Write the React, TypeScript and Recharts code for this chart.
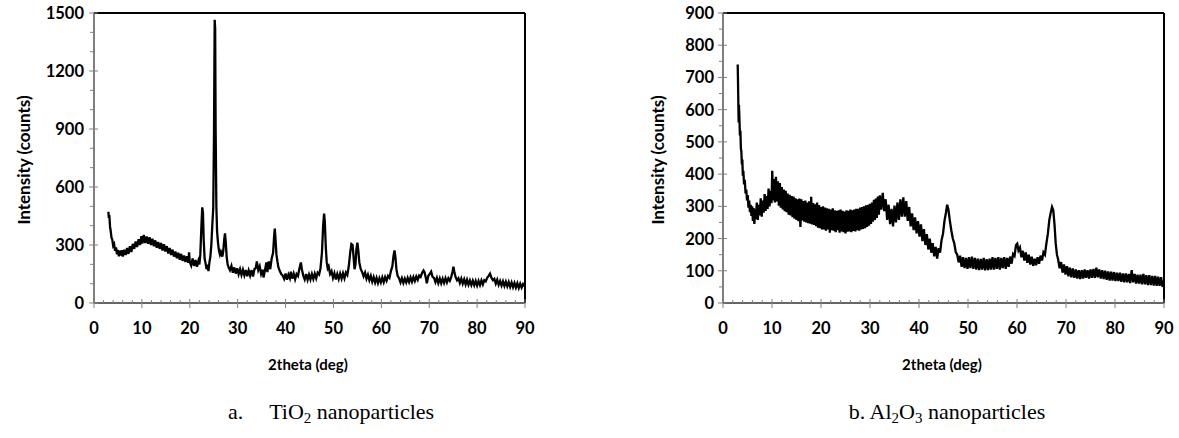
import React from 'react';
import { LineChart, Line, XAxis, YAxis, ReferenceLine } from 'recharts';

// 2theta (deg), intensity (counts)
const tio2Pattern: [number, number][] = [
  [3.0, 472], [3.1, 440], [3.2, 455], [3.35, 395], [3.5, 370], [3.65, 338], [3.8, 330], [4.0, 296],
  [4.2, 305], [4.4, 270], [4.6, 288], [4.8, 252], [5.0, 275], [5.2, 242], [5.4, 270], [5.6, 246],
  [5.8, 273], [6.0, 240], [6.3, 275], [6.6, 248], [6.9, 284], [7.2, 254], [7.5, 294], [7.8, 264],
  [8.1, 306], [8.4, 280], [8.7, 318], [9.0, 290], [9.3, 330], [9.6, 300], [9.9, 346], [10.1, 308],
  [10.4, 352], [10.7, 310], [11.0, 344], [11.3, 306], [11.6, 340], [11.9, 300], [12.2, 332], [12.5, 294],
  [12.8, 324], [13.1, 286], [13.4, 316], [13.7, 280], [14.0, 310], [14.3, 272], [14.6, 304], [14.9, 266],
  [15.2, 294], [15.5, 256], [15.8, 284], [16.1, 248], [16.4, 276], [16.7, 240], [17.0, 266], [17.3, 232],
  [17.6, 260], [17.9, 224], [18.2, 254], [18.5, 218], [18.8, 246], [19.1, 212], [19.4, 242], [19.7, 208],
  [19.85, 262], [20.0, 212], [20.3, 194], [20.6, 230], [20.9, 192], [21.2, 222], [21.5, 188], [21.8, 218],
  [22.0, 200], [22.2, 250], [22.4, 380], [22.6, 495], [22.75, 470], [22.9, 330], [23.1, 230], [23.3, 205],
  [23.5, 175], [23.7, 198], [23.9, 165], [24.1, 210], [24.3, 240], [24.5, 300], [24.7, 400], [24.9, 490],
  [25.05, 850], [25.2, 1465], [25.3, 1420], [25.4, 900], [25.55, 500], [25.7, 370], [25.9, 310], [26.1, 270],
  [26.3, 250], [26.5, 265], [26.8, 240], [27.0, 270], [27.2, 330], [27.35, 360], [27.5, 320], [27.7, 240],
  [27.9, 200], [28.1, 185], [28.4, 170], [28.7, 192], [29.0, 157], [29.3, 184], [29.6, 152], [29.9, 180],
  [30.2, 149], [30.5, 175], [30.8, 145], [31.1, 172], [31.4, 143], [31.7, 170], [32.0, 139], [32.3, 168],
  [32.6, 142], [32.9, 170], [33.2, 137], [33.5, 175], [33.8, 182], [34.0, 215], [34.3, 170], [34.6, 190],
  [34.9, 150], [35.2, 172], [35.4, 132], [35.7, 170], [36.0, 210], [36.2, 160], [36.5, 215], [36.8, 175],
  [37.1, 230], [37.4, 260], [37.6, 340], [37.75, 385], [37.9, 330], [38.1, 250], [38.3, 215], [38.5, 185],
  [38.8, 165], [39.1, 150], [39.4, 142], [39.7, 125], [40.0, 152], [40.3, 120], [40.6, 147], [40.9, 128],
  [41.1, 162], [41.4, 126], [41.7, 152], [42.0, 123], [42.3, 150], [42.6, 140], [42.9, 178], [43.2, 210],
  [43.4, 175], [43.7, 142], [44.0, 122], [44.3, 150], [44.6, 120], [44.9, 147], [45.2, 122], [45.5, 150],
  [45.8, 124], [46.1, 152], [46.4, 128], [46.7, 157], [47.0, 148], [47.3, 180], [47.6, 260], [47.85, 400],
  [48.05, 462], [48.2, 420], [48.4, 290], [48.6, 210], [48.8, 180], [49.0, 190], [49.3, 150], [49.6, 165],
  [49.9, 130], [50.2, 154], [50.5, 122], [50.8, 150], [51.1, 124], [51.4, 152], [51.7, 126], [52.0, 154],
  [52.3, 128], [52.6, 158], [52.9, 145], [53.2, 190], [53.5, 260], [53.75, 305], [54.0, 300], [54.2, 240],
  [54.4, 175], [54.6, 200], [54.8, 280], [55.0, 312], [55.2, 270], [55.4, 210], [55.7, 175], [56.0, 160],
  [56.3, 138], [56.6, 157], [56.9, 126], [57.2, 147], [57.5, 118], [57.8, 140], [58.1, 110], [58.4, 134],
  [58.7, 106], [59.0, 130], [59.3, 103], [59.6, 128], [59.9, 106], [60.2, 132], [60.5, 108], [60.8, 134],
  [61.1, 115], [61.4, 140], [61.7, 130], [62.0, 165], [62.3, 190], [62.55, 245], [62.75, 272], [62.95, 235],
  [63.15, 175], [63.4, 140], [63.7, 128], [64.0, 106], [64.3, 128], [64.6, 104], [64.9, 126], [65.2, 106],
  [65.5, 130], [65.8, 108], [66.1, 132], [66.4, 110], [66.7, 134], [67.0, 114], [67.3, 137], [67.6, 120],
  [67.9, 142], [68.2, 135], [68.5, 155], [68.8, 168], [69.0, 160], [69.3, 130], [69.5, 102], [69.8, 140],
  [70.1, 150], [70.4, 162], [70.7, 135], [71.0, 130], [71.3, 108], [71.6, 130], [71.9, 103], [72.2, 127],
  [72.5, 102], [72.8, 126], [73.1, 104], [73.4, 128], [73.7, 106], [74.0, 128], [74.3, 115], [74.6, 135],
  [74.85, 160], [75.05, 188], [75.25, 160], [75.5, 135], [75.8, 118], [76.1, 128], [76.4, 104], [76.7, 126],
  [77.0, 100], [77.3, 122], [77.6, 96], [77.9, 120], [78.2, 95], [78.5, 117], [78.8, 93], [79.1, 115],
  [79.4, 92], [79.7, 114], [80.0, 90], [80.3, 114], [80.6, 93], [80.9, 117], [81.2, 96], [81.5, 118],
  [81.8, 112], [82.1, 130], [82.4, 140], [82.7, 152], [83.0, 130], [83.3, 118], [83.6, 125], [83.9, 100],
  [84.2, 120], [84.5, 94], [84.8, 114], [85.1, 90], [85.4, 112], [85.7, 88], [86.0, 110], [86.3, 86],
  [86.6, 108], [86.9, 83], [87.2, 106], [87.5, 82], [87.8, 104], [88.1, 80], [88.4, 102], [88.7, 78],
  [89.0, 100], [89.3, 80], [89.6, 98], [90.0, 84],
];

// 2theta (deg), intensity (counts)
const al2o3Pattern: [number, number][] = [
  [3.0, 740], [3.05, 700], [3.1, 650], [3.15, 600], [3.2, 560], [3.25, 615], [3.35, 575], [3.45, 520],
  [3.55, 535], [3.65, 480], [3.75, 470], [3.85, 430], [3.95, 445], [4.05, 395], [4.15, 410], [4.3, 368],
  [4.45, 382], [4.6, 340], [4.75, 352], [4.9, 318], [5.05, 335], [5.2, 296], [5.35, 318], [5.5, 282],
  [5.65, 305], [5.8, 270], [5.95, 300], [6.1, 255], [6.25, 295], [6.4, 245], [6.55, 290], [6.7, 260],
  [6.9, 312], [7.1, 258], [7.3, 305], [7.5, 272], [7.7, 325], [7.9, 268], [8.1, 318], [8.3, 280],
  [8.5, 338], [8.7, 286], [8.9, 332], [9.1, 292], [9.3, 355], [9.5, 300], [9.7, 348], [9.9, 310],
  [10.05, 410], [10.2, 318], [10.4, 385], [10.6, 312], [10.8, 392], [11.0, 315], [11.2, 378], [11.4, 302],
  [11.6, 372], [11.8, 296], [12.0, 360], [12.2, 290], [12.4, 352], [12.6, 285], [12.8, 348], [13.0, 282],
  [13.2, 340], [13.4, 274], [13.6, 336], [13.8, 272], [14.0, 332], [14.2, 266], [14.4, 330], [14.6, 262],
  [14.8, 325], [15.0, 258], [15.2, 322], [15.4, 254], [15.6, 324], [15.8, 236], [16.0, 322], [16.2, 256],
  [16.4, 316], [16.6, 252], [16.8, 318], [17.0, 250], [17.2, 312], [17.4, 248], [17.6, 316], [17.8, 246],
  [18.0, 330], [18.2, 244], [18.4, 310], [18.6, 242], [18.8, 306], [19.0, 238], [19.2, 312], [19.4, 234],
  [19.6, 304], [19.8, 232], [20.0, 298], [20.2, 228], [20.4, 300], [20.6, 228], [20.8, 296], [21.0, 224],
  [21.2, 294], [21.4, 228], [21.6, 292], [21.8, 218], [22.0, 290], [22.2, 226], [22.4, 294], [22.6, 224],
  [22.8, 288], [23.0, 220], [23.2, 286], [23.4, 226], [23.6, 288], [23.8, 218], [24.0, 290], [24.2, 222],
  [24.4, 286], [24.6, 220], [24.8, 284], [25.0, 216], [25.2, 288], [25.4, 221], [25.6, 286], [25.8, 222],
  [26.0, 290], [26.2, 220], [26.4, 288], [26.6, 224], [26.8, 290], [27.0, 222], [27.2, 292], [27.4, 226],
  [27.6, 292], [27.8, 224], [28.0, 296], [28.2, 228], [28.4, 298], [28.6, 230], [28.8, 300], [29.0, 232],
  [29.2, 303], [29.4, 236], [29.6, 305], [29.8, 240], [30.0, 308], [30.2, 245], [30.4, 312], [30.6, 252],
  [30.8, 320], [31.0, 258], [31.2, 324], [31.4, 264], [31.6, 330], [31.8, 274], [32.0, 334], [32.3, 290],
  [32.6, 342], [32.9, 285], [33.2, 322], [33.5, 258], [33.8, 305], [34.1, 245], [34.4, 292], [34.7, 238],
  [35.0, 302], [35.3, 250], [35.6, 312], [35.9, 258], [36.2, 322], [36.5, 268], [36.8, 328], [37.1, 268],
  [37.4, 316], [37.7, 255], [38.0, 298], [38.3, 238], [38.6, 278], [38.9, 226], [39.2, 266], [39.5, 216],
  [39.8, 254], [40.1, 206], [40.4, 244], [40.7, 192], [41.0, 229], [41.3, 180], [41.6, 214], [41.9, 166],
  [42.2, 200], [42.5, 156], [42.8, 186], [43.1, 145], [43.4, 174], [43.7, 138], [44.0, 170], [44.3, 156],
  [44.6, 195], [44.9, 215], [45.2, 255], [45.5, 280], [45.75, 305], [46.0, 290], [46.3, 255], [46.6, 225],
  [46.9, 200], [47.2, 185], [47.5, 158], [47.8, 150], [48.1, 126], [48.4, 147], [48.7, 112], [49.0, 142],
  [49.3, 108], [49.6, 140], [49.9, 106], [50.2, 142], [50.5, 108], [50.8, 144], [51.1, 106], [51.4, 140],
  [51.7, 104], [52.0, 138], [52.3, 102], [52.6, 137], [52.9, 104], [53.2, 140], [53.5, 101], [53.8, 136],
  [54.1, 102], [54.4, 138], [54.7, 104], [55.0, 142], [55.3, 104], [55.6, 140], [55.9, 106], [56.2, 142],
  [56.5, 104], [56.8, 140], [57.1, 108], [57.4, 142], [57.7, 106], [58.0, 140], [58.3, 112], [58.6, 144],
  [58.9, 122], [59.2, 152], [59.5, 146], [59.8, 180], [60.05, 184], [60.3, 163], [60.6, 172], [60.9, 142],
  [61.2, 162], [61.5, 132], [61.8, 157], [62.1, 125], [62.4, 150], [62.7, 119], [63.0, 144], [63.3, 115],
  [63.6, 137], [63.9, 117], [64.2, 142], [64.5, 122], [64.8, 147], [65.1, 132], [65.4, 157], [65.7, 150],
  [66.0, 185], [66.3, 215], [66.6, 258], [66.9, 282], [67.15, 298], [67.4, 288], [67.65, 245], [67.9, 185],
  [68.15, 150], [68.4, 135], [68.7, 108], [69.0, 127], [69.3, 94], [69.6, 120], [69.9, 88], [70.2, 114],
  [70.5, 83], [70.8, 110], [71.1, 80], [71.4, 107], [71.7, 78], [72.0, 104], [72.3, 76], [72.6, 102],
  [72.9, 74], [73.2, 102], [73.5, 76], [73.8, 104], [74.1, 78], [74.4, 102], [74.7, 76], [75.0, 104],
  [75.3, 78], [75.6, 106], [75.9, 78], [76.2, 110], [76.5, 80], [76.8, 104], [77.1, 76], [77.4, 102],
  [77.7, 74], [78.0, 100], [78.3, 72], [78.6, 98], [78.9, 70], [79.2, 97], [79.5, 70], [79.8, 96],
  [80.1, 68], [80.4, 94], [80.7, 68], [81.0, 94], [81.3, 66], [81.6, 92], [81.9, 64], [82.2, 92],
  [82.5, 64], [82.8, 90], [83.1, 62], [83.4, 102], [83.7, 64], [84.0, 90], [84.3, 60], [84.6, 88],
  [84.9, 60], [85.2, 88], [85.5, 58], [85.8, 90], [86.1, 58], [86.4, 86], [86.7, 56], [87.0, 86],
  [87.3, 56], [87.6, 84], [87.9, 54], [88.2, 84], [88.5, 53], [88.8, 82], [89.1, 53], [89.4, 80],
  [89.7, 50], [90.0, 70],
];

const xTicks = [0, 2, 4, 6, 8, 10, 12, 14, 16, 18, 20, 22, 24, 26, 28, 30, 32, 34, 36, 38, 40, 42, 44, 46,
  48, 50, 52, 54, 56, 58, 60, 62, 64, 66, 68, 70, 72, 74, 76, 78, 80, 82, 84, 86, 88, 90];
const tio2YTicks = [0, 100, 200, 300, 400, 500, 600, 700, 800, 900, 1000, 1100, 1200, 1300, 1400, 1500];
const al2o3YTicks = [0, 50, 100, 150, 200, 250, 300, 350, 400, 450, 500, 550, 600, 650, 700, 750, 800, 850, 900];

const tickFont = { fontFamily: 'Lato, sans-serif', fontWeight: 700, fontSize: 16.5, fill: '#000' };
const axisGray = '#808080';

const XTick = (props: any) => {
  const { x, y, payload } = props;
  const v = payload.value;
  if (v % 10 !== 0) {
    return <line x1={x} x2={x} y1={y - 3} y2={y} stroke={axisGray} strokeWidth={1} />;
  }
  return (
    <g>
      <line x1={x} x2={x} y1={y - 4} y2={y + 5} stroke={axisGray} strokeWidth={1} />
      <text x={x} y={y + 25} textAnchor="middle" dominantBaseline="central" {...tickFont}>{v}</text>
    </g>
  );
};

const makeYTick = (majorStep: number, gap: number) => (props: any) => {
  const { x, y, payload } = props;
  const v = payload.value;
  if (v % majorStep !== 0) {
    return <line x1={x - 4} x2={x} y1={y} y2={y} stroke={axisGray} strokeWidth={1} />;
  }
  return (
    <g>
      <line x1={x - 5} x2={x + 4} y1={y} y2={y} stroke={axisGray} strokeWidth={1} />
      <text x={x - gap} y={y} textAnchor="end" dominantBaseline="central" {...tickFont}>{v}</text>
    </g>
  );
};

const toRows = (pts: [number, number][]) => pts.map(([x, y]) => ({ x, y }));

interface PanelProps {
  rows: { x: number; y: number }[];
  yTicks: number[];
  yMax: number;
  majorStep: number;
  yAxisWidth: number;
  labelGap: number;
  width: number;
}

const Panel: React.FC<PanelProps> = ({ rows, yTicks, yMax, majorStep, yAxisWidth, labelGap, width }) => (
  <LineChart width={width} height={350} data={rows} margin={{ top: 13, right: 15, bottom: 0, left: 0 }}>
    <XAxis
      type="number"
      dataKey="x"
      domain={[0, 90]}
      ticks={xTicks}
      interval={0}
      height={47}
      tickSize={0}
      tickMargin={0}
      tickLine={false}
      tick={<XTick />}
      axisLine={{ stroke: '#333', strokeWidth: 1.5 }}
    />
    <YAxis
      type="number"
      domain={[0, yMax]}
      ticks={yTicks}
      interval={0}
      width={yAxisWidth}
      tickSize={0}
      tickMargin={0}
      tickLine={false}
      tick={makeYTick(majorStep, labelGap)}
      axisLine={{ stroke: '#555', strokeWidth: 1.5 }}
    />
    <ReferenceLine y={yMax} stroke="#000" strokeWidth={2} />
    <ReferenceLine x={90} stroke="#000" strokeWidth={2} />
    <Line
      type="linear"
      dataKey="y"
      stroke="#000"
      strokeWidth={2.3}
      dot={false}
      isAnimationActive={false}
    />
  </LineChart>
);

const axisTitle: React.CSSProperties = {
  position: 'absolute',
  fontFamily: 'Lato, sans-serif',
  fontWeight: 700,
  color: '#000',
  whiteSpace: 'nowrap',
};

const caption: React.CSSProperties = {
  position: 'absolute',
  fontFamily: '"Liberation Serif", "Times New Roman", serif',
  fontSize: 22,
  color: '#000',
  whiteSpace: 'nowrap',
  transform: 'translate(-50%, -50%)',
};

const sub: React.CSSProperties = { fontSize: '0.68em', verticalAlign: '-0.25em', lineHeight: 0 };

export default function App() {
  return (
    <div style={{ position: 'absolute', left: 0, top: 0, width: 1179, height: 438, background: '#fff', overflow: 'hidden' }}>
      <div style={{ position: 'absolute', left: 0, top: 0 }}>
        <Panel rows={toRows(tio2Pattern)} yTicks={tio2YTicks} yMax={1500} majorStep={300} yAxisWidth={94} labelGap={10} width={540} />
      </div>
      <div style={{ position: 'absolute', left: 620, top: 0 }}>
        <Panel rows={toRows(al2o3Pattern)} yTicks={al2o3YTicks} yMax={900} majorStep={100} yAxisWidth={103} labelGap={9} width={559} />
      </div>

      <div style={{ ...axisTitle, fontSize: 17, left: 23, top: 160, transform: 'translate(-50%, -50%) rotate(-90deg)' }}>Intensity (counts)</div>
      <div style={{ ...axisTitle, fontSize: 17, left: 657, top: 160, transform: 'translate(-50%, -50%) rotate(-90deg)' }}>Intensity (counts)</div>
      <div style={{ ...axisTitle, fontSize: 15, left: 308, top: 364, transform: 'translate(-50%, -50%)' }}>2theta (deg)</div>
      <div style={{ ...axisTitle, fontSize: 15, left: 942, top: 364, transform: 'translate(-50%, -50%)' }}>2theta (deg)</div>

      <div style={{ ...caption, left: 331, top: 412 }}>
        a.<span style={{ display: 'inline-block', width: 26 }} />TiO<span style={sub}>2</span> nanoparticles
      </div>
      <div style={{ ...caption, left: 947, top: 412 }}>
        b. Al<span style={sub}>2</span>O<span style={sub}>3</span> nanoparticles
      </div>
    </div>
  );
}
